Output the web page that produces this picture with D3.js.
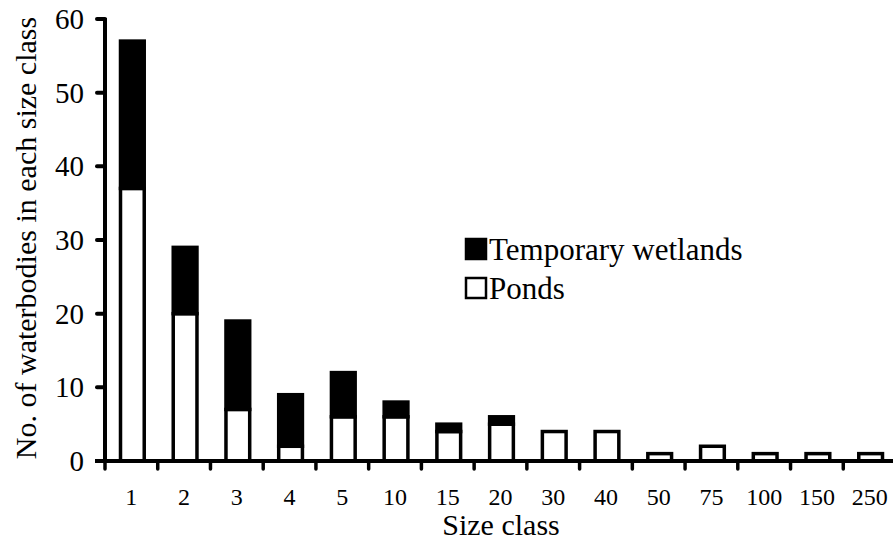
<!DOCTYPE html>
<html>
<head>
<meta charset="utf-8">
<script src="https://cdn.jsdelivr.net/npm/d3@7/dist/d3.min.js"></script>
<style>
  html, body { margin: 0; padding: 0; background: #fff; }
  svg { display: block; }
  svg text { font-family: "Liberation Serif", "Times New Roman", Times, "DejaVu Serif", serif; }
</style>
</head>
<body>
<svg id="chart" width="893" height="542"></svg>
<script>
// Size classes on the x axis
const sizeClasses = ["1", "2", "3", "4", "5", "10", "15", "20", "30", "40", "50", "75", "100", "150", "250"];
// Number of ponds in each size class
const ponds = [37, 20, 7, 2, 6, 6, 4, 5, 4, 4, 1, 2, 1, 1, 1];
// Number of temporary wetlands in each size class (stacked above ponds)
const temporaryWetlands = [20, 9, 12, 7, 6, 2, 1, 1, 0, 0, 0, 0, 0, 0, 0];
// Y axis ticks
const yTicks = [0, 10, 20, 30, 40, 50, 60];
// Legend entries
const legendItems = [
  { label: "Temporary wetlands", fill: "#000" },
  { label: "Ponds", fill: "#fff" }
];

const FONT = "Liberation Serif, Times New Roman, Times, DejaVu Serif, serif";

const svg = d3.select("#chart").attr("font-family", FONT);

const x = d3.scaleBand().domain(sizeClasses).range([105, 896]).padding(0);
const y = d3.scaleLinear().domain([0, 60]).range([461, 19]);

const barW = x.bandwidth() * 0.45;

// Stacked bars: ponds at the base, temporary wetlands on top
const bars = svg.append("g").attr("stroke", "#000").attr("stroke-width", 3.5);
sizeClasses.forEach((c, i) => {
  const cx = x(c) + x.bandwidth() / 2 + 1;
  bars.append("rect")
    .attr("x", cx - barW / 2)
    .attr("y", y(ponds[i]))
    .attr("width", barW)
    .attr("height", y(0) - y(ponds[i]))
    .attr("fill", "#fff");
  if (temporaryWetlands[i] > 0) {
    const top = ponds[i] + temporaryWetlands[i];
    bars.append("rect")
      .attr("x", cx - barW / 2)
      .attr("y", y(top))
      .attr("width", barW)
      .attr("height", y(ponds[i]) - y(top))
      .attr("fill", "#000");
  }
});

// Y axis
const yAxis = svg.append("g");
yAxis.append("line")
  .attr("x1", 105).attr("x2", 105)
  .attr("y1", y(60) - 1).attr("y2", y(0) + 2)
  .attr("stroke", "#000").attr("stroke-width", 4);
yAxis.selectAll("line.tick").data(yTicks).join("line")
  .attr("class", "tick")
  .attr("x1", 97).attr("x2", 105)
  .attr("y1", d => y(d)).attr("y2", d => y(d))
  .attr("stroke", "#000").attr("stroke-width", 4).attr("stroke-linecap", "round");
yAxis.selectAll("text").data(yTicks).join("text")
  .attr("x", 84).attr("y", d => y(d))
  .attr("dy", "0.34em")
  .attr("text-anchor", "end")
  .attr("font-family", FONT)
  .attr("font-size", 29)
  .attr("fill", "#000")
  .text(d => d);

// X axis
const xAxis = svg.append("g");
xAxis.append("line")
  .attr("x1", 95).attr("x2", 893)
  .attr("y1", y(0)).attr("y2", y(0))
  .attr("stroke", "#000").attr("stroke-width", 4);
const boundaries = sizeClasses.map(c => x(c)).concat([x.range()[1]]);
xAxis.selectAll("line.tick").data(boundaries).join("line")
  .attr("class", "tick")
  .attr("x1", d => d).attr("x2", d => d)
  .attr("y1", y(0)).attr("y2", y(0) + 8)
  .attr("stroke", "#000").attr("stroke-width", 3.5).attr("stroke-linecap", "round");
xAxis.selectAll("text").data(sizeClasses).join("text")
  .attr("x", d => x(d) + x.bandwidth() / 2)
  .attr("y", 505)
  .attr("text-anchor", "middle")
  .attr("font-family", FONT)
  .attr("font-size", 24)
  .attr("fill", "#000")
  .text(d => d);

// Axis titles
svg.append("text")
  .attr("x", 501).attr("y", 535)
  .attr("text-anchor", "middle")
  .attr("font-family", FONT)
  .attr("font-size", 30)
  .attr("fill", "#000")
  .text("Size class");
svg.append("text")
  .attr("transform", "translate(36,238) rotate(-90)")
  .attr("text-anchor", "middle")
  .attr("font-family", FONT)
  .attr("font-size", 30)
  .attr("fill", "#000")
  .text("No. of waterbodies in each size class");

// Legend
const legend = svg.append("g");
legendItems.forEach((item, i) => {
  const ty = 260 + i * 39;
  legend.append("rect")
    .attr("x", 466).attr("y", ty - 21)
    .attr("width", 20).attr("height", 20)
    .attr("fill", item.fill)
    .attr("stroke", "#000").attr("stroke-width", 2.5);
  legend.append("text")
    .attr("x", 489).attr("y", ty)
    .attr("font-family", FONT)
    .attr("font-size", 31)
    .attr("fill", "#000")
    .text(item.label);
});
</script>
</body>
</html>
